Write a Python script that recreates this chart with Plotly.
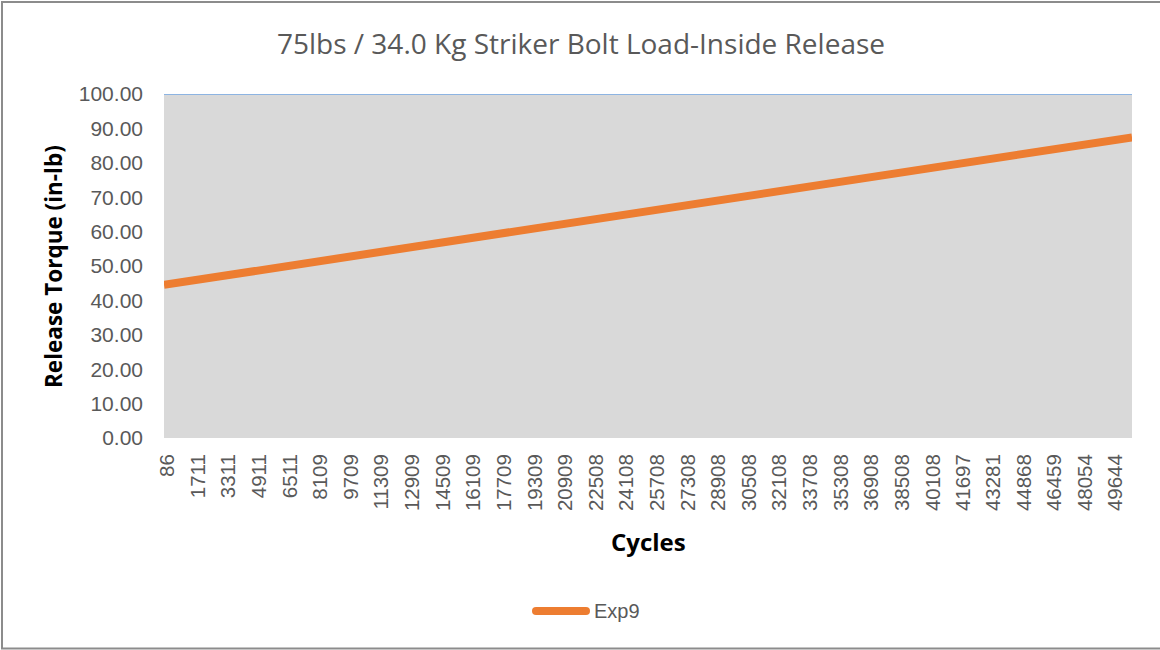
import plotly.graph_objects as go

# Data
cycles = [86, 1711, 3311, 4911, 6511, 8109, 9709, 11309, 12909, 14509, 16109,
          17709, 19309, 20909, 22508, 24108, 25708, 27308, 28908, 30508, 32108,
          33708, 35308, 36908, 38508, 40108, 41697, 43281, 44868, 46459, 48054,
          49644, 50670]
torque = [44.50, 45.88, 47.24, 48.60, 49.96, 51.31, 52.67, 54.03, 55.39, 56.75,
          58.11, 59.47, 60.83, 62.19, 63.54, 64.90, 66.26, 67.62, 68.98, 70.34,
          71.70, 73.06, 74.41, 75.77, 77.13, 78.49, 79.84, 81.19, 82.53, 83.88,
          85.24, 86.59, 87.40]
tick_labels = [86, 1711, 3311, 4911, 6511, 8109, 9709, 11309, 12909, 14509, 16109,
               17709, 19309, 20909, 22508, 24108, 25708, 27308, 28908, 30508, 32108,
               33708, 35308, 36908, 38508, 40108, 41697, 43281, 44868, 46459, 48054,
               49644]
series_name = "Exp9"
title_text = "75lbs / 34.0 Kg Striker Bolt Load-Inside Release"
y_title = "Release Torque (in-lb)"
x_title = "Cycles"
y_limit = 100

W, H = 1160, 650
L, R, T, B = 164, 28, 94, 212
PW, PH = W - L - R, H - T - B

def px_x(p):
    return (p - L) / PW

def px_y(p):
    return (H - B - p) / PH

ORANGE = "#ED7D31"
GREY_TXT = "#595959"

fig = go.Figure()
fig.add_trace(go.Scatter(
    x=cycles, y=torque, mode="lines", name=series_name,
    line=dict(color=ORANGE, width=8), showlegend=False,
))

fig.update_layout(
    width=W, height=H,
    margin=dict(l=L, r=R, t=T, b=B),
    paper_bgcolor="white",
    plot_bgcolor="#D9D9D9",
    font=dict(family="Liberation Sans, Arial, sans-serif", color=GREY_TXT),
    title=dict(text=title_text, x=581 / W, xref="container", xanchor="center",
               y=1 - 44 / H, yref="container", yanchor="middle",
               font=dict(size=28, color=GREY_TXT, family="Open Sans, sans-serif")),
    xaxis=dict(
        range=[cycles[0], cycles[-1]],
        tickmode="array", tickvals=tick_labels, ticktext=[str(v) for v in tick_labels],
        tickangle=-90, tickfont=dict(size=20.5, color=GREY_TXT),
        showgrid=False, zeroline=False, showline=False, ticks="",
        ticklabelshift=3, ticklabelstandoff=11,
    ),
    yaxis=dict(
        range=[0, 100], dtick=10, tickformat=".2f",
        tickfont=dict(size=21, color=GREY_TXT),
        showgrid=False, zeroline=False, showline=False, ticks="",
        ticklabelstandoff=20,
    ),
    showlegend=False,
    annotations=[
        dict(text=f"<b>{y_title}</b>", x=px_x(53), y=px_y(267), xref="paper", yref="paper",
             textangle=-90, showarrow=False, xanchor="center", yanchor="middle",
             font=dict(size=22.5, color="black", family="Open Sans, sans-serif")),
        dict(text=f"<b>{x_title}</b>", x=px_x(648), y=px_y(541), xref="paper", yref="paper",
             showarrow=False, xanchor="center", yanchor="middle",
             font=dict(size=24, color="black", family="Open Sans, sans-serif")),
        dict(text=series_name, x=px_x(592), y=px_y(611), xref="paper", yref="paper",
             showarrow=False, xanchor="left", yanchor="middle",
             font=dict(size=20, color=GREY_TXT)),
    ],
    shapes=[
        dict(type="line", xref="x domain", yref="y", x0=0, x1=1, y0=y_limit, y1=y_limit,
             line=dict(color="#8DB4E2", width=2)),
        dict(type="rect", xref="paper", yref="paper",
             x0=px_x(2), x1=px_x(1166), y0=px_y(648.5), y1=px_y(2),
             line=dict(color="#8C8C8C", width=2), fillcolor="rgba(0,0,0,0)", layer="below"),
        dict(type="line", xref="paper", yref="paper",
             x0=px_x(536), x1=px_x(586), y0=px_y(611), y1=px_y(611),
             line=dict(color=ORANGE, width=8)),
        dict(type="circle", xref="paper", yref="paper",
             x0=px_x(532), x1=px_x(540), y0=px_y(615), y1=px_y(607),
             line=dict(width=0), fillcolor=ORANGE),
        dict(type="circle", xref="paper", yref="paper",
             x0=px_x(582), x1=px_x(590), y0=px_y(615), y1=px_y(607),
             line=dict(width=0), fillcolor=ORANGE),
    ],
)

fig.write_html("out.html", config={"displayModeBar": False},
               post_script="document.body.style.margin='0';")
